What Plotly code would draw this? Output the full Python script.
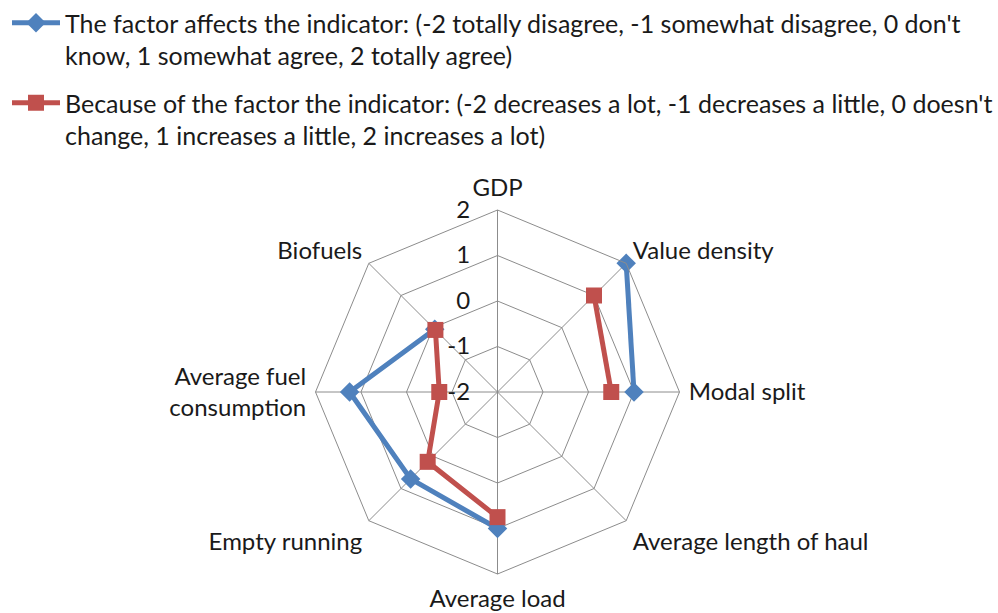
import plotly.graph_objects as go

categories = ["GDP", "Value density", "Modal split", "Average length of haul",
              "Average load", "Empty running", "Average fuel consumption", "Biofuels"]
category_labels = ["GDP", "Value density", "Modal split", "Average length of haul",
                   "Average load", "Empty running", "Average fuel<br>consumption", "Biofuels"]
affects_values = [None, 2.0, 1.0, None, 1.0, 0.7, 1.25, -0.05]
direction_values = [None, 1.0, 0.5, None, 0.75, 0.17, -0.72, -0.07]
radial_ticks = [-2, -1, 0, 1, 2]

name_affects = ("The factor affects the indicator: (-2 totally disagree, -1 somewhat disagree, 0 don't"
                "<br>know, 1 somewhat agree, 2 totally agree)")
name_direction = ("Because of the factor the indicator: (-2 decreases a lot, -1 decreases a little, 0 doesn't"
                  "<br>change, 1 increases a little, 2 increases a lot)")

FONT = "Lato"
BLUE = "#4F81BD"
RED = "#C0504D"
GRID = "#8C8C8C"

# Plotly's polar hides markers when the radial range starts below zero, so the
# radial axis is drawn from 0 to 4 and labelled with the real scale (-2 .. 2).
R_MIN = radial_ticks[0]
R_MAX = radial_ticks[-1]


def segments(values):
    """Split a series into runs of consecutive non-missing values."""
    runs, cur = [], []
    for cat, v in zip(categories, values):
        if v is None:
            if cur:
                runs.append(cur)
            cur = []
        else:
            cur.append((cat, v))
    if cur:
        runs.append(cur)
    return runs


fig = go.Figure()
# invisible trace fixing the category order
fig.add_trace(go.Scatterpolar(r=[0] * len(categories), theta=categories, mode="markers",
                              marker=dict(size=1, opacity=0), showlegend=False, hoverinfo="skip"))

series = [
    (affects_values, name_affects, BLUE, "diamond", 15, "a"),
    (direction_values, name_direction, RED, "square", 16, "b"),
]
for vals, name, color, symbol, msize, grp in series:
    runs = segments(vals)
    runs.sort(key=len, reverse=True)
    for i, run in enumerate(runs):
        fig.add_trace(go.Scatterpolar(
            r=[v - R_MIN for _, v in run], theta=[c for c, _ in run],
            customdata=[v for _, v in run],
            hovertemplate="%{theta}: %{customdata}<extra></extra>",
            name=name, legendgroup=grp, showlegend=(i == 0),
            mode="lines+markers", cliponaxis=False,
            line=dict(color=color, width=5),
            marker=dict(symbol=symbol, size=msize, color=color),
        ))

NB = "\u00a0"
fig.update_layout(
    width=998, height=613,
    margin=dict(l=0, r=0, t=0, b=0),
    paper_bgcolor="white",
    font=dict(family=FONT, size=24, color="#1a1a1a"),
    showlegend=True,
    legend=dict(x=0.011, y=1.0, xanchor="left", yanchor="top", valign="top",
                itemwidth=48, tracegroupgap=12, font=dict(size=25), bgcolor="rgba(0,0,0,0)"),
    polar=dict(
        domain=dict(x=[0.3161, 0.6809], y=[0.0636, 0.6574]),
        bgcolor="white",
        gridshape="linear",
        radialaxis=dict(range=[0, R_MAX - R_MIN],
                        tickvals=[t - R_MIN for t in radial_ticks],
                        ticktext=[str(t) + NB * 3 for t in radial_ticks],
                        angle=90, tickangle=90, side="counterclockwise",
                        showline=True, linecolor=GRID, linewidth=1,
                        gridcolor=GRID, gridwidth=1, ticks="",
                        tickfont=dict(size=24, family=FONT)),
        angularaxis=dict(direction="clockwise", rotation=90, type="category",
                         categoryorder="array", categoryarray=categories,
                         tickmode="array", tickvals=categories, ticktext=category_labels,
                         showline=True, linecolor=GRID, linewidth=1,
                         gridcolor=GRID, gridwidth=1, ticks="outside", ticklen=4,
                         tickcolor="rgba(0,0,0,0)",
                         tickfont=dict(size=24, family=FONT)),
    ),
)

fig.write_html("out.html", config={"displayModeBar": False},
               post_script="document.body.style.margin='0';")
